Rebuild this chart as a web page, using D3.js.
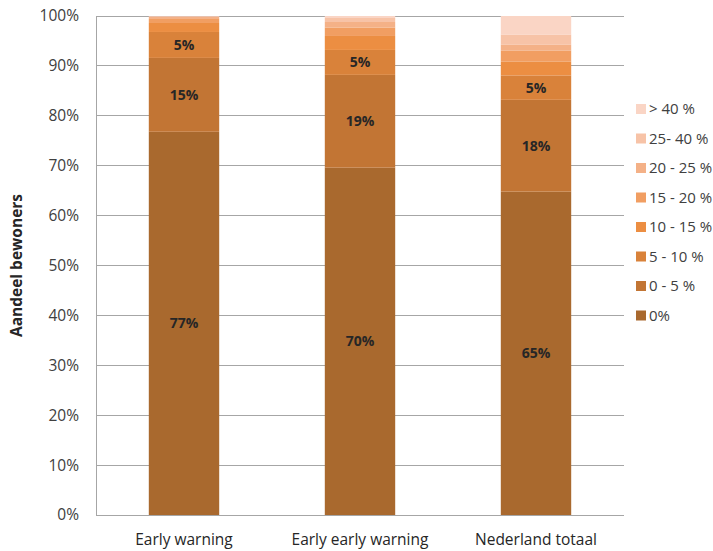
<!DOCTYPE html>
<html>
<head>
<meta charset="utf-8">
<script src="https://cdn.jsdelivr.net/npm/d3@7"></script>
<style>
  body { margin: 0; background: #fff; }
  svg { display: block; font-family: "Open Sans", Lato, sans-serif; }
</style>
</head>
<body>
<svg id="chart" width="713" height="551"></svg>
<script>
// Share of residents per category, split by bands (percent of total)
const categories = ["Early warning", "Early early warning", "Nederland totaal"];
const bands = ["0%", "0 - 5 %", "5 - 10 %", "10 - 15 %", "15 - 20 %", "20 - 25 %", "25- 40 %", "> 40 %"];
const band0   = [76.8, 69.6, 64.8];
const band5   = [14.8, 18.6, 18.4];
const band10  = [5.2, 5.0, 4.9];
const band15  = [1.8, 2.8, 2.8];
const band20  = [0.8, 1.7, 2.2];
const band25  = [0.4, 1.1, 1.2];
const band40  = [0.15, 0.8, 2.0];
const bandMax = [0.05, 0.4, 3.7];
const seriesValues = [band0, band5, band10, band15, band20, band25, band40, bandMax];
const labelledBands = [0, 1, 2];
const colors = ["#a9692e", "#c27534", "#d9823a", "#ec8e42", "#f19e62", "#f4b187", "#f7c3a7", "#fad5c5"];
const yTicks = [0, 10, 20, 30, 40, 50, 60, 70, 80, 90, 100];

const svg = d3.select("#chart");
const margin = { left: 96, right: 89, top: 16, bottom: 36 };
const W = 713, H = 551;

const x = d3.scaleBand().domain(categories).range([margin.left, W - margin.right]).paddingInner(0.6).paddingOuter(0.3);
const y = d3.scaleLinear().domain([0, 100]).range([H - margin.bottom, margin.top]);

// Gridlines
svg.append("g")
  .selectAll("line").data(yTicks).join("line")
  .attr("x1", margin.left).attr("x2", W - margin.right)
  .attr("y1", d => y(d)).attr("y2", d => y(d))
  .attr("stroke", "#a6a6a6").attr("stroke-width", 1)
  .attr("shape-rendering", "crispEdges");

// Y axis line
svg.append("line")
  .attr("x1", margin.left).attr("x2", margin.left)
  .attr("y1", y(0)).attr("y2", y(100))
  .attr("stroke", "#a6a6a6").attr("shape-rendering", "crispEdges");

// Y tick labels
svg.append("g")
  .selectAll("text").data(yTicks).join("text")
  .attr("x", 79).attr("y", d => y(d)).attr("dy", "0.35em")
  .attr("text-anchor", "end").attr("font-size", 15.5).attr("fill", "#404040")
  .text(d => d + "%");

// Y axis title
svg.append("text")
  .attr("transform", `translate(22,${(y(0) + y(100)) / 2}) rotate(-90)`)
  .attr("text-anchor", "middle").attr("font-size", 15.5).attr("font-weight", "bold").attr("fill", "#262626")
  .text("Aandeel bewoners");

// Stacked data
const table = categories.map((c, i) => {
  const row = { cat: c };
  bands.forEach((b, k) => { row[b] = seriesValues[k][i]; });
  return row;
});
const stacked = d3.stack().keys(bands)(table);

const layers = svg.append("g").selectAll("g").data(stacked).join("g")
  .attr("fill", (d, k) => colors[k]);
layers.selectAll("rect").data(d => d).join("rect")
  .attr("x", d => x(d.data.cat))
  .attr("width", x.bandwidth())
  .attr("y", d => y(d[1]))
  .attr("height", d => y(d[0]) - y(d[1]));

// Value labels
const lbl = svg.append("g");
labelledBands.forEach(k => {
  stacked[k].forEach(d => {
    lbl.append("text")
      .attr("x", x(d.data.cat) + x.bandwidth() / 2)
      .attr("y", y((d[0] + d[1]) / 2)).attr("dy", "0.35em")
      .attr("text-anchor", "middle").attr("font-size", 14).attr("font-weight", "bold").attr("fill", "#262626")
      .text(Math.round(d[1] - d[0]) + "%");
  });
});

// Category labels
svg.append("g").selectAll("text").data(categories).join("text")
  .attr("x", d => x(d) + x.bandwidth() / 2).attr("y", 545)
  .attr("text-anchor", "middle").attr("font-size", 15.5).attr("fill", "#262626")
  .text(d => d);

// Legend (top = highest band)
const legendItems = bands.map((b, k) => ({ b, k })).reverse();
const leg = svg.append("g").selectAll("g").data(legendItems).join("g")
  .attr("transform", (d, i) => `translate(636,${109 + i * 29.5})`);
leg.append("rect").attr("x", 0).attr("y", -5).attr("width", 10).attr("height", 10)
  .attr("fill", d => colors[d.k]);
leg.append("text").attr("x", 13).attr("y", 0).attr("dy", "0.35em")
  .attr("font-size", 15).attr("fill", "#404040")
  .text(d => d.b);
</script>
</body>
</html>
